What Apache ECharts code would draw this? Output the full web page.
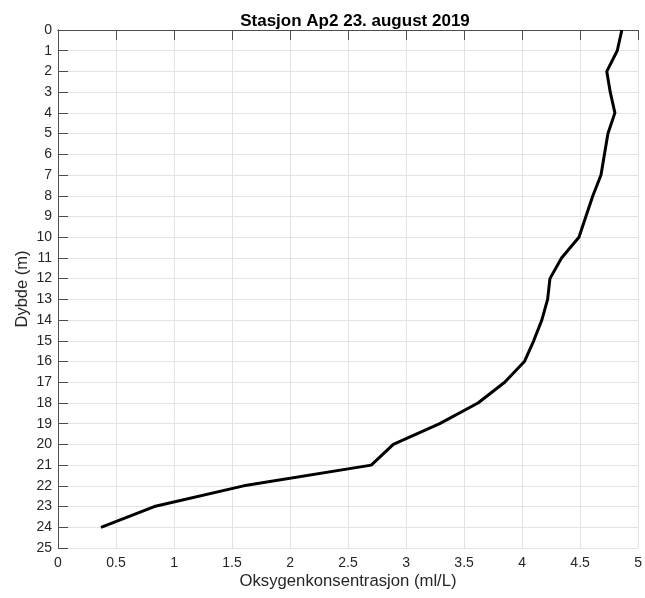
<!DOCTYPE html>
<html><head><meta charset="utf-8">
<script src="https://cdn.jsdelivr.net/npm/echarts@6/dist/echarts.min.js"></script>
<style>html,body{margin:0;padding:0;background:#fff}#c{width:645px;height:598px}</style>
</head><body><div id="c"></div>
<script>
const depths = [0,1,2,3,4,5,6,7,8,9,10,11,12,13,14,15,16,17,18,19,20,21,22,23,24];
const oxygen = [4.86,4.82,4.73,4.76,4.80,4.74,4.71,4.68,4.61,4.55,4.49,4.34,4.24,4.22,4.17,4.10,4.02,3.85,3.62,3.29,2.89,2.70,1.60,0.83,0.37];
const titleText = 'Stasjon Ap2 23. august 2019';
const xName = 'Oksygenkonsentrasjon (ml/L)';
const yName = 'Dybde (m)';

const font = 'Liberation Sans, Arial, sans-serif';
const axColor = '#4d4d4d';
const txtColor = '#262626';
const chart = echarts.init(document.getElementById('c'), null, {renderer:'canvas'});
const commonX = {type:'value', min:0, max:5, interval:0.5};
const commonY = {type:'value', min:0, max:25, interval:1, inverse:true};
const tickOnly = {axisLine:{show:false}, axisLabel:{show:false}, splitLine:{show:false},
  axisTick:{show:true, inside:false, length:5, lineStyle:{color:axColor, width:1}}, offset:-5};
chart.setOption({
  animation:false,
  backgroundColor:'#fff',
  title:{text:titleText, left:350, textAlign:'center', top:8,
    textStyle:{fontFamily:font, fontSize:17, fontWeight:'bold', color:'#000'}},
  grid:{left:58, right:4, top:30, bottom:50, containLabel:false},
  xAxis:[
    Object.assign({}, commonX, {position:'bottom', name:xName, nameLocation:'middle', nameGap:25,
      nameMoveOverlap:false,
      nameTextStyle:{fontFamily:font, fontSize:16.7, color:txtColor},
      axisLine:{show:true, lineStyle:{color:axColor, width:1}},
      axisTick:{show:false},
      axisLabel:{fontFamily:font, fontSize:14, color:txtColor, margin:8, formatter:v=>String(v)},
      splitLine:{show:true, lineStyle:{color:'#e3e3e3', width:1}}}),
    Object.assign({}, commonX, {position:'top',
      axisLine:{show:true, lineStyle:{color:axColor, width:1}},
      axisTick:{show:false}, axisLabel:{show:false}, splitLine:{show:false}}),
    Object.assign({}, commonX, tickOnly, {position:'bottom'}),
    Object.assign({}, commonX, tickOnly, {position:'top'})
  ],
  yAxis:[
    Object.assign({}, commonY, {position:'left', name:yName, nameLocation:'middle', nameGap:27,
      nameMoveOverlap:false,
      nameTextStyle:{fontFamily:font, fontSize:16.5, color:txtColor},
      axisLine:{show:true, lineStyle:{color:axColor, width:1}},
      axisTick:{show:false},
      axisLabel:{fontFamily:font, fontSize:14, color:txtColor, margin:6},
      splitLine:{show:true, lineStyle:{color:'#e3e3e3', width:1}}}),
    Object.assign({}, commonY, {position:'right',
      axisLine:{show:true, lineStyle:{color:axColor, width:1}},
      axisTick:{show:false}, axisLabel:{show:false}, splitLine:{show:false}}),
    Object.assign({}, commonY, tickOnly, {position:'left'}),
    Object.assign({}, commonY, tickOnly, {position:'right'})
  ],
  series:[{type:'line', xAxisIndex:0, yAxisIndex:0, showSymbol:false, symbol:'none',
    lineStyle:{color:'#000', width:3}, data:depths.map((d,i)=>[oxygen[i], d])}]
});
</script></body></html>
